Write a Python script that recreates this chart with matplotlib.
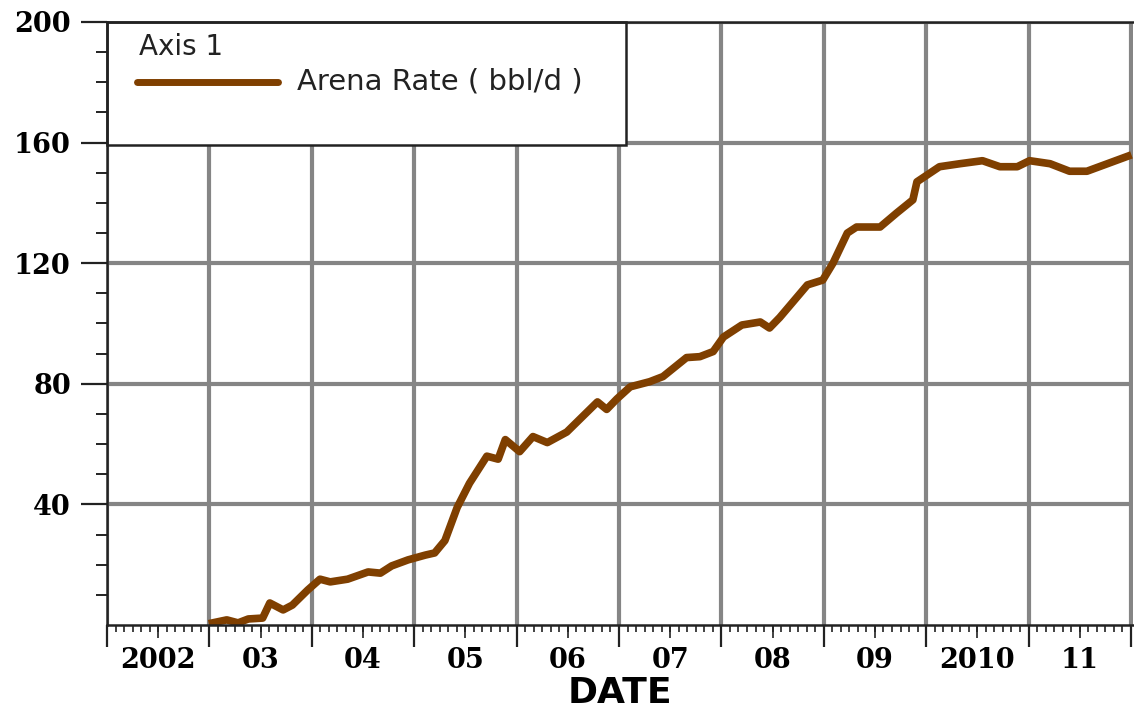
import numpy as np
import matplotlib
matplotlib.use("Agg")
import matplotlib.pyplot as plt
from matplotlib.patches import Rectangle

# ----------------------------
# Daten
# ----------------------------
SERIES_NAME = "Arena Rate ( bbl/d )"
LEGEND_TITLE = "Axis 1"

# Zeit in Dezimaljahren
years = [2003.03, 2003.17, 2003.28, 2003.38, 2003.52, 2003.59, 2003.72, 2003.81,
         2003.96, 2004.08, 2004.18, 2004.35, 2004.55, 2004.67, 2004.78, 2004.94,
         2005.11, 2005.20, 2005.30, 2005.42, 2005.54, 2005.71, 2005.82, 2005.89,
         2006.03, 2006.16, 2006.30, 2006.49, 2006.79, 2006.88, 2006.98, 2007.11,
         2007.30, 2007.43, 2007.66, 2007.79, 2007.92, 2008.02, 2008.20, 2008.38,
         2008.47, 2008.57, 2008.84, 2008.99, 2009.09, 2009.23, 2009.32, 2009.55,
         2009.71, 2009.87, 2009.91, 2010.13, 2010.33, 2010.55, 2010.72, 2010.89,
         2011.01, 2011.21, 2011.40, 2011.57, 2011.77, 2011.97]

rate = [0.7, 1.7, 0.7, 2.0, 2.3, 7.3, 5.0, 6.6,
        11.6, 15.2, 14.3, 15.2, 17.6, 17.2, 19.6, 21.6,
        23.2, 23.9, 28.0, 39.0, 47.0, 56.0, 55.0, 61.5,
        57.5, 62.5, 60.5, 64.0, 74.0, 71.5, 75.0, 79.0,
        80.7, 82.4, 88.7, 89.0, 90.7, 95.5, 99.5, 100.5,
        98.5, 102.0, 112.8, 114.4, 120.0, 130.0, 132.0, 132.0,
        136.6, 141.0, 147.0, 152.0, 153.0, 154.0, 152.0, 152.0,
        154.0, 153.0, 150.5, 150.5, 153.0, 155.5]

year_start = 2002
year_end = 2012
year_labels = ["2002", "03", "04", "05", "06", "07", "08", "09", "2010", "11"]

y_ticks = [40, 80, 120, 160, 200]

LINE_COLOR = "#7f3f00"
GRID_COLOR = "#858585"
TICK_FONT = dict(fontfamily="DejaVu Serif", fontweight="bold", fontsize=19.5)

# ----------------------------
# Plot
# ----------------------------
fig = plt.figure(figsize=(11.34, 7.15), dpi=100)
ax = fig.add_axes([107 / 1134, 90 / 715, 1026 / 1134, 603 / 715])

ax.plot(years, rate, color=LINE_COLOR, linewidth=5.5, zorder=4)

ax.set_xlim(year_start, year_end + 0.02)
ax.set_ylim(0, 200)

# x-Achse: Jahresgrenzen (lang), Monate (kurz)
ax.set_xticks(np.arange(year_start, year_end + 1))
ax.set_xticklabels([])
ax.set_xticks(np.arange(year_start, year_end, 1 / 12), minor=True)
ax.tick_params(axis="x", which="major", direction="out", length=16, width=1.6, color="#222222")
ax.tick_params(axis="x", which="minor", direction="out", length=5, width=1.2, color="#222222")

# Jahreslabels in der Mitte des Jahres
secax = ax.secondary_xaxis("bottom")
secax.spines["bottom"].set_visible(False)
mids = np.arange(year_start, year_end) + 0.5
secax.set_xticks(mids, year_labels, **TICK_FONT)
secax.tick_params(axis="x", direction="out", length=9, width=1.2, pad=6.5, color="#222222")
secax.set_xlabel("DATE", fontfamily="DejaVu Sans", fontweight="bold", fontsize=26, labelpad=2)

# y-Achse
ax.set_yticks(y_ticks, [str(v) for v in y_ticks], **TICK_FONT)
ax.set_yticks(np.arange(10, 200, 10), minor=True)
ax.tick_params(axis="y", which="major", direction="out", length=19, width=1.6, pad=7, color="#222222")
ax.tick_params(axis="y", which="minor", direction="out", length=8, width=1.4, color="#222222")

# Gitter
ax.set_axisbelow(True)
ax.grid(True, which="major", color=GRID_COLOR, linewidth=3)

for side in ["left", "bottom", "top"]:
    ax.spines[side].set_linewidth(1.8)
    ax.spines[side].set_color("#222222")
    ax.spines[side].set_zorder(5)
ax.spines["right"].set_visible(False)

# Legende (Kasten oben links)
ax.add_patch(Rectangle((0, 0.796), 0.506, 0.204, transform=ax.transAxes,
                       facecolor="white", edgecolor="#222222", linewidth=1.8,
                       zorder=3, clip_on=False))
ax.plot([0.029, 0.167], [0.9005, 0.9005], transform=ax.transAxes,
        color=LINE_COLOR, linewidth=5, solid_capstyle="round", zorder=4)
ax.text(0.031, 0.958, LEGEND_TITLE, transform=ax.transAxes, fontsize=20,
        fontfamily="DejaVu Sans", va="center", ha="left", zorder=4, color="#222222")
ax.text(0.185, 0.9005, SERIES_NAME, transform=ax.transAxes, fontsize=21,
        fontfamily="DejaVu Sans", va="center", ha="left", zorder=4, color="#222222")

plt.savefig("out.png", dpi=100)
plt.close()
